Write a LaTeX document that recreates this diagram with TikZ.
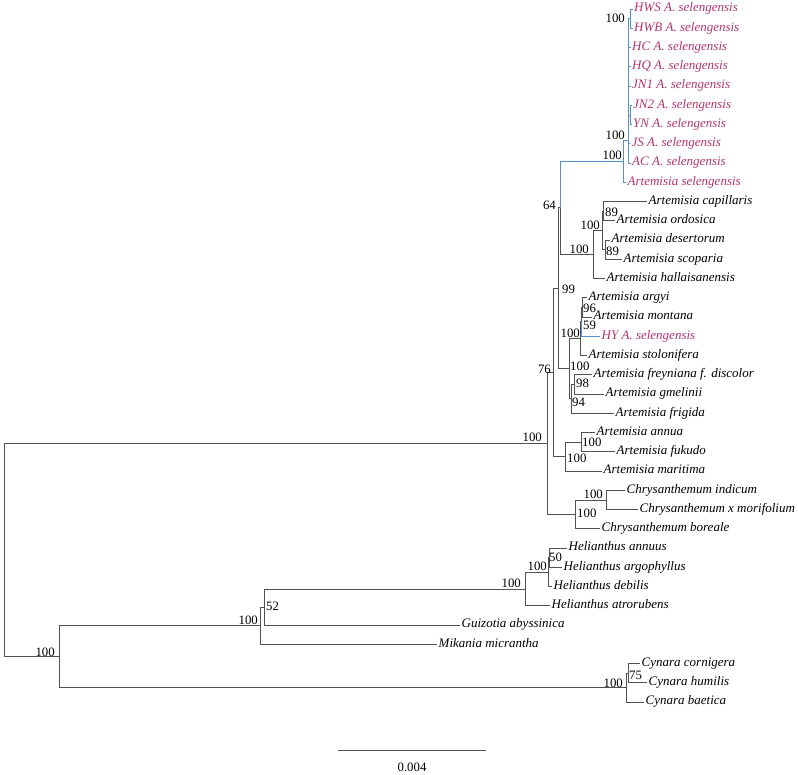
\documentclass[tikz,border=0pt]{standalone}
\usepackage{fontspec}
\setmainfont{Liberation Serif}
\definecolor{selc}{RGB}{178,52,110}
\definecolor{blc}{RGB}{86,145,204}
\tikzset{
  br/.style={draw=black!68, line width=0.75pt},
  bb/.style={draw=blc, line width=0.75pt},
  leaf/.style={anchor=west, inner xsep=1.5pt, inner ysep=0pt, text height=8.8pt, text depth=2.9pt, font=\fontsize{13}{14}\selectfont\itshape},
  sel/.style={leaf, text=selc},
  bs/.style={inner sep=0pt, font=\fontsize{12.8}{14}\selectfont},
  bsl/.style={bs, anchor=east},
  bsr/.style={bs, anchor=west},
}
\begin{document}
\begin{tikzpicture}[x=1pt, y=-1pt]
\useasboundingbox (0,0) rectangle (798,775);
% internal nodes
\coordinate (nHW) at (630.5,18.6);
\coordinate (nJY) at (630,114.9);
\coordinate (nIn) at (628,140);
\coordinate (nOut) at (623,161.1);
\coordinate (n89a) at (603.5,211.1);
\coordinate (n89b) at (605,249.6);
\coordinate (n602) at (602,230.4);
\coordinate (n593) at (593,254.4);
\coordinate (n64) at (560,207.8);
\coordinate (n96) at (582,307.4);
\coordinate (n59) at (581,321.8);
\coordinate (n100c) at (580,338.7);
\coordinate (n98) at (574,384.4);
\coordinate (n94) at (571,398.8);
\coordinate (n100b) at (569,368.8);
\coordinate (n99) at (558,288.3);
\coordinate (nAF) at (581,442.1);
\coordinate (nMar) at (565.5,456.6);
\coordinate (n76) at (553,372.4);
\coordinate (nCI) at (606,499.9);
\coordinate (nChr) at (575,514.3);
\coordinate (nBig) at (547,443.4);
\coordinate (n50) at (549.5,557.6);
\coordinate (nHel) at (548,572.1);
\coordinate (nHel2) at (525,588.9);
\coordinate (n52) at (264,607.0);
\coordinate (nAst) at (260,625.6);
\coordinate (n75) at (628,673.1);
\coordinate (nCyn) at (626,687.6);
\coordinate (nBot) at (59,656.6);
\coordinate (root) at (4,550);
% leaves
\node[sel] (L0) at (632.5,9) {HWS A. selengensis};
\node[sel] (L1) at (632.5,28.25) {HWB A. selengensis};
\node[sel] (L2) at (630.5,47.5) {HC A. selengensis};
\node[sel] (L3) at (630.5,66.75) {HQ A. selengensis};
\node[sel] (L4) at (630.5,86) {JN1 A. selengensis};
\node[sel] (L5) at (631.5,105.25) {JN2 A. selengensis};
\node[sel] (L6) at (631.5,124.5) {YN A. selengensis};
\node[sel] (L7) at (630,143.75) {JS A. selengensis};
\node[sel] (L8) at (630.5,163) {AC A. selengensis};
\node[sel] (L9) at (626,182.25) {Artemisia selengensis};
\node[leaf] (L10) at (647,201.5) {Artemisia capillaris};
\node[leaf] (L11) at (615,220.75) {Artemisia ordosica};
\node[leaf] (L12) at (610,240) {Artemisia desertorum};
\node[leaf] (L13) at (622,259.25) {Artemisia scoparia};
\node[leaf] (L14) at (605,278.5) {Artemisia hallaisanensis};
\node[leaf] (L15) at (587,297.75) {Artemisia argyi};
\node[leaf] (L16) at (592,317) {Artemisia montana};
\node[sel] (L17) at (600,336.25) {HY A. selengensis};
\node[leaf] (L18) at (587,355.5) {Artemisia stolonifera};
\node[leaf] (L19) at (592,374.75) {Artemisia freyniana f. discolor};
\node[leaf] (L20) at (604,394) {Artemisia gmelinii};
\node[leaf] (L21) at (614,413.25) {Artemisia frigida};
\node[leaf] (L22) at (595,432.5) {Artemisia annua};
\node[leaf] (L23) at (615,451.75) {Artemisia fukudo};
\node[leaf] (L24) at (602,471) {Artemisia maritima};
\node[leaf] (L25) at (625,490.25) {Chrysanthemum indicum};
\node[leaf] (L26) at (638,509.5) {Chrysanthemum x morifolium};
\node[leaf] (L27) at (600,528.75) {Chrysanthemum boreale};
\node[leaf] (L28) at (567,548) {Helianthus annuus};
\node[leaf] (L29) at (562,567.25) {Helianthus argophyllus};
\node[leaf] (L30) at (552,586.5) {Helianthus debilis};
\node[leaf] (L31) at (550,605.75) {Helianthus atrorubens};
\node[leaf] (L32) at (460,625) {Guizotia abyssinica};
\node[leaf] (L33) at (437,644.25) {Mikania micrantha};
\node[leaf] (L34) at (640,663.5) {Cynara cornigera};
\node[leaf] (L35) at (647,682.75) {Cynara humilis};
\node[leaf] (L36) at (644,702) {Cynara baetica};
% blue branches
\draw[bb] (nHW) |- (L0.west);
\draw[bb] (nHW) |- (L1.west);
\draw[bb] (nJY) |- (L5.west);
\draw[bb] (nJY) |- (L6.west);
\draw[bb] (nIn) |- (nHW);
\draw[bb] (nIn) |- (L2.west);
\draw[bb] (nIn) |- (L3.west);
\draw[bb] (nIn) |- (L4.west);
\draw[bb] (nIn) |- (nJY);
\draw[bb] (nIn) |- (L7.west);
\draw[bb] (nIn) |- (L8.west);
\draw[bb] (nOut) |- (nIn);
\draw[bb] (nOut) |- (L9.west);
\draw[bb] (n64) |- (nOut);
\draw[bb] (n59) |- (L17.west);
% black branches
\draw[br] (n64) |- (n593);
\draw[br] (n593) |- (n602);
\draw[br] (n593) |- (L14.west);
\draw[br] (n602) |- (n89a);
\draw[br] (n602) |- (n89b);
\draw[br] (n89a) |- (L10.west);
\draw[br] (n89a) |- (L11.west);
\draw[br] (n89b) |- (L12.west);
\draw[br] (n89b) |- (L13.west);
\draw[br] (n99) |- (n64);
\draw[br] (n99) |- (n100b);
\draw[br] (n100b) |- (n100c);
\draw[br] (n100b) |- (n94);
\draw[br] (n100c) |- (n59);
\draw[br] (n100c) |- (L18.west);
\draw[br] (n59) |- (n96);
\draw[br] (n96) |- (L15.west);
\draw[br] (n96) |- (L16.west);
\draw[br] (n94) |- (n98);
\draw[br] (n94) |- (L21.west);
\draw[br] (n98) |- (L19.west);
\draw[br] (n98) |- (L20.west);
\draw[br] (n76) |- (n99);
\draw[br] (n76) |- (nMar);
\draw[br] (nMar) |- (nAF);
\draw[br] (nMar) |- (L24.west);
\draw[br] (nAF) |- (L22.west);
\draw[br] (nAF) |- (L23.west);
\draw[br] (nBig) |- (n76);
\draw[br] (nBig) |- (nChr);
\draw[br] (nChr) |- (nCI);
\draw[br] (nChr) |- (L27.west);
\draw[br] (nCI) |- (L25.west);
\draw[br] (nCI) |- (L26.west);
\draw[br] (root) |- (nBig);
\draw[br] (root) |- (nBot);
\draw[br] (nBot) |- (nAst);
\draw[br] (nBot) |- (nCyn);
\draw[br] (nAst) |- (n52);
\draw[br] (nAst) |- (L33.west);
\draw[br] (n52) |- (nHel2);
\draw[br] (n52) |- (L32.west);
\draw[br] (nHel2) |- (nHel);
\draw[br] (nHel2) |- (L31.west);
\draw[br] (nHel) |- (n50);
\draw[br] (nHel) |- (L30.west);
\draw[br] (n50) |- (L28.west);
\draw[br] (n50) |- (L29.west);
\draw[br] (nCyn) |- (n75);
\draw[br] (nCyn) |- (L36.west);
\draw[br] (n75) |- (L34.west);
\draw[br] (n75) |- (L35.west);
% bootstrap labels
\node[bsl] (bHW) at (625,18) {100};
\node[bsl] (bIn) at (625,135) {100};
\node[bsl] (bOut) at (622,155) {100};
\node[bsl] (b64) at (556,205) {64};
\node[bsl] (b602) at (600,225) {100};
\node[bsl] (b593) at (589,249) {100};
\node[bsr] (b89a) at (605,212) {89};
\node[bsr] (b89b) at (606,251) {89};
\node[bsr] (b99) at (562,289) {99};
\node[bsr] (b96) at (583,308) {96};
\node[bsr] (b59) at (583,325) {59};
\node[bsl] (b100c) at (580,333) {100};
\node[bsr] (b100b) at (570,366) {100};
\node[bsr] (b98) at (576,383) {98};
\node[bsr] (b94) at (572,402) {94};
\node[bsl] (b76) at (551,369) {76};
\node[bsl] (bBig) at (542,437) {100};
\node[bsr] (bAF) at (582,442) {100};
\node[bsr] (bMar) at (567,458) {100};
\node[bsl] (bCI) at (603,494) {100};
\node[bsr] (bChr) at (577,513) {100};
\node[bsr] (b50) at (549,557) {50};
\node[bsl] (bHel) at (547,566) {100};
\node[bsl] (bHel2) at (521,583) {100};
\node[bsr] (b52) at (266,606) {52};
\node[bsl] (bAst) at (258,620) {100};
\node[bsl] (bCyn) at (623,683) {100};
\node[bsr] (b75) at (629,675) {75};
\node[bsl] (bBot) at (55,652) {100};
% scale bar
\coordinate (sa) at (338,750);
\coordinate (sb) at (486,750);
\draw[br] (sa) -- (sb);
\node[bs] (sl) at (412,767) {0.004};
\end{tikzpicture}
\end{document}
